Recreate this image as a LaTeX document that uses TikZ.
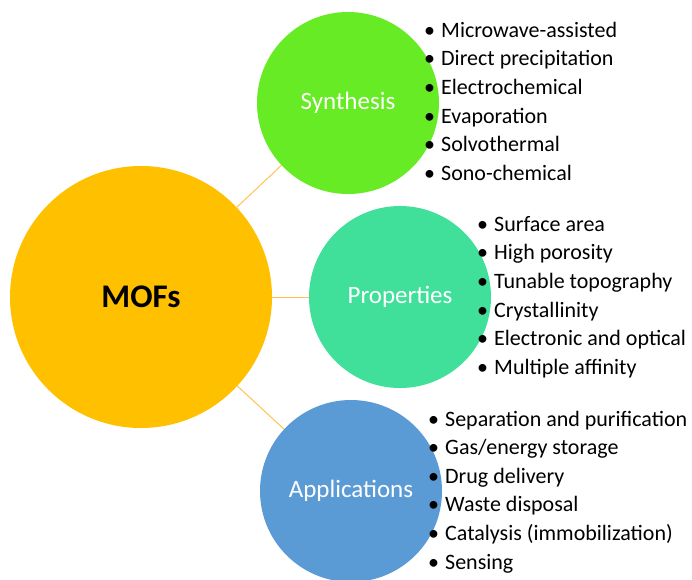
\documentclass[tikz,border=0pt]{standalone}
\usepackage{fontspec}
\setmainfont{Carlito}
\definecolor{mofc}{HTML}{FFC000}
\definecolor{sync}{HTML}{66EB24}
\definecolor{proc}{HTML}{40E09A}
\definecolor{appc}{HTML}{5B9BD5}
\definecolor{linkc}{HTML}{FFC34D}
\tikzset{
  bigball/.style={circle, inner sep=0pt, minimum size=262pt, fill=mofc, text=black, font=\fontsize{33}{36}\selectfont\bfseries},
  ball/.style={circle, inner sep=0pt, minimum size=182pt, text=white, font=\fontsize{25}{28}\selectfont},
  link/.style={draw=linkc, line width=1pt},
  item/.style={anchor=base west, inner sep=0pt, text=black, font=\fontsize{22}{26}\selectfont}
}
\newcommand{\bul}{\makebox[17pt][l]{•}}
\begin{document}
\begin{tikzpicture}[x=1pt,y=-1pt]
\useasboundingbox (0,0) rectangle (692,579);
\node[bigball] (mof) at (141,297) {MOFs};
\node[ball, fill=sync] (syn) at (348,103) {Synthesis};
\node[ball, fill=proc] (pro) at (400,297) {Properties};
\node[ball, fill=appc] (app) at (351,491) {Applications};
\draw[link] (mof) -- (syn);
\draw[link] (mof) -- (pro);
\draw[link] (mof) -- (app);
% Synthesis list
\foreach \t [count=\i from 0] in {Microwave-assisted, Direct precipitation, Electrochemical, Evaporation, Solvothermal, Sono-chemical}
  \node[item] (s\i) at (424, 37+28.7*\i) {\bul\t};
% Properties list
\foreach \t [count=\i from 0] in {Surface area, High porosity, Tunable topography, Crystallinity, Electronic and optical, Multiple affinity}
  \node[item] (p\i) at (477, 231+28.7*\i) {\bul\t};
% Applications list
\foreach \t [count=\i from 0] in {Separation and purification, Gas/energy storage, Drug delivery, Waste disposal, Catalysis (immobilization), Sensing}
  \node[item] (a\i) at (428, 426+28.6*\i) {\bul\t};
\end{tikzpicture}
\end{document}
